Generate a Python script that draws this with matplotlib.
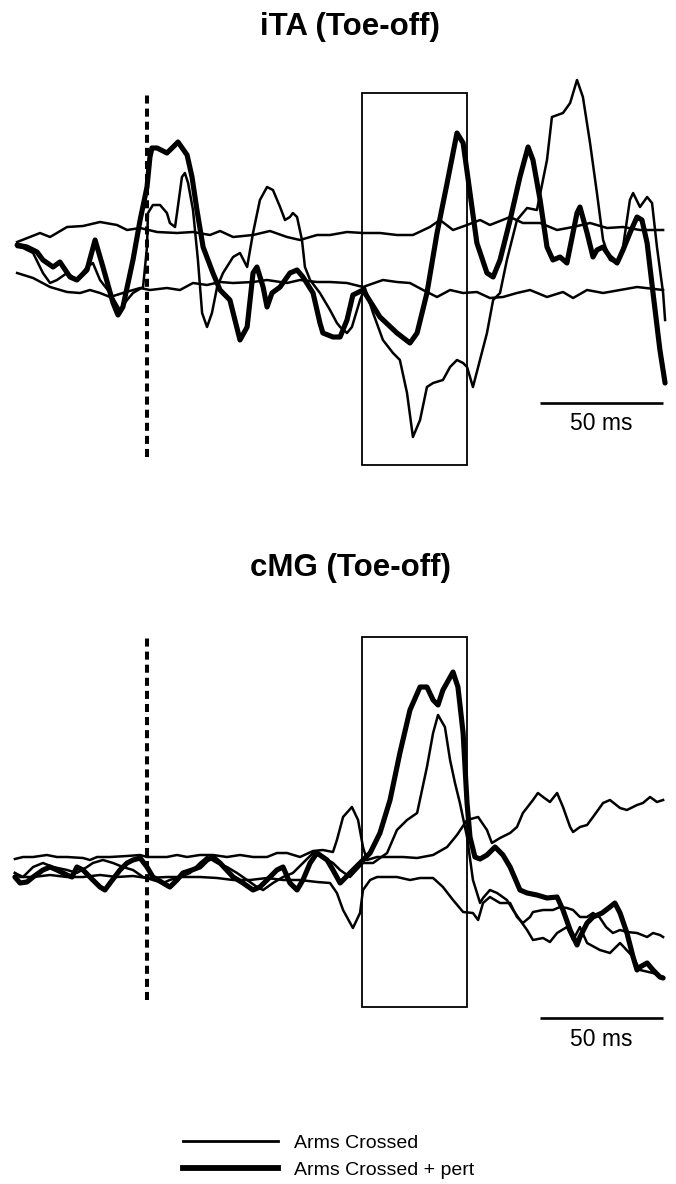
import matplotlib
matplotlib.use("Agg")
import matplotlib.pyplot as plt
from matplotlib.lines import Line2D
from matplotlib.patches import Rectangle

plt.rcParams['font.family'] = ['Liberation Sans', 'DejaVu Sans']

# ---------------------------------------------------------------- data
# time in ms relative to toe-off, amplitude in arbitrary EMG units

# iTA (Toe-off): control band (upper / lower)
ita_upper_t = [-52.8, -47.6, -43.5, -39.4, -32.5, -26.0, -19.1, -12.2, -8.1, -2.8, 4.1, 12.2,
               18.7, 25.6, 29.7, 35.0, 43.1, 50.0, 56.9, 62.2, 69.1, 74.4, 81.3, 87.8, 94.7,
               101.6, 108.1, 115.0, 119.1, 124.4, 130.1, 135.4, 139.4, 147.6, 152.8, 159.8,
               166.7, 173.2, 180.1, 187.0, 193.5, 200.4, 209.8]
ita_upper = [1.8, 2.3, 2.7, 2.3, 3.3, 3.4, 3.8, 3.5, 3.0, 3.2, 2.8, 2.7,
             2.8, 2.5, 2.9, 2.3, 2.5, 2.9, 2.3, 2.0, 2.5, 2.5, 2.8, 2.7, 2.7,
             2.5, 2.5, 3.3, 4.0, 3.0, 3.5, 4.0, 3.5, 4.3, 3.7, 3.7,
             3.0, 3.3, 3.7, 3.2, 3.3, 3.0, 3.0]

ita_lower_t = [-52.8, -46.3, -39.4, -32.5, -27.2, -23.2, -19.1, -15.0, -9.8, -2.8, 1.2, 8.1,
               13.4, 18.7, 24.4, 29.7, 35.0, 43.1, 48.8, 56.9, 62.2, 69.1, 74.4, 81.3, 87.8,
               95.9, 101.6, 106.9, 112.2, 117.9, 123.2, 128.5, 134.1, 139.4, 144.7, 150.4,
               155.7, 162.6, 169.1, 173.2, 178.9, 185.4, 192.3, 199.2, 209.8]
ita_lower = [-1.3, -1.8, -2.7, -3.2, -3.3, -3.0, -3.3, -3.7, -3.3, -2.8, -3.0, -2.8,
             -3.0, -2.3, -2.5, -2.2, -2.3, -2.2, -2.0, -2.3, -2.0, -2.2, -2.2, -2.3, -2.7,
             -2.0, -2.2, -2.3, -3.0, -3.7, -3.0, -3.3, -3.2, -3.8, -3.7, -3.3,
             -3.0, -3.7, -3.2, -3.8, -3.0, -3.3, -3.0, -2.7, -3.0]

# iTA (Toe-off): Arms Crossed trace
ita_ctrl_t = [-52.8, -50.4, -46.3, -42.3, -39.4, -36.6, -32.5, -28.5, -24.4, -22.0, -19.1, -15.0,
              -11.0, -8.1, -5.7, -1.6, 0.0, 0.4, 2.4, 5.3, 8.1, 9.3, 11.4, 12.2, 14.2, 15.4,
              16.7, 18.7, 20.7, 22.4, 24.4, 26.4, 28.5, 30.9, 35.0, 37.8, 40.7, 43.1, 45.9,
              48.8, 51.2, 54.1, 56.1, 58.1, 59.3, 61.0, 63.0, 64.2, 66.3, 70.3, 74.4, 77.2,
              78.5, 81.3, 83.3, 86.6, 88.6, 91.9, 95.9, 100.0, 102.8, 105.7, 108.1, 111.0,
              113.8, 116.3, 120.3, 123.2, 126.0, 128.5, 130.1, 132.5, 138.2, 140.7, 143.5,
              146.3, 150.4, 154.5, 158.5, 162.6, 164.6, 169.1, 172.0, 174.8, 177.2, 180.1,
              182.9, 185.4, 188.2, 191.1, 193.5, 196.3, 197.6, 200.4, 203.3, 205.3, 207.3,
              209.8, 210.6]
ita_ctrl = [1.3, 1.2, 0.7, -1.3, -2.3, -2.0, -1.3, -2.0, -0.7, -0.3, -2.0, -3.3,
            -5.0, -4.0, -3.3, -2.7, 1.3, 4.7, 5.5, 5.5, 4.7, 3.7, 3.3, 4.7, 8.3, 8.7,
            7.7, 5.0, 0.0, -5.3, -6.7, -5.3, -2.7, -1.3, 0.3, 0.7, -0.7, 2.7, 6.0,
            7.3, 7.0, 5.3, 4.0, 4.3, 4.7, 4.3, 2.0, -0.7, -2.0, -3.3, -5.0, -6.3,
            -6.7, -7.3, -6.7, -4.0, -2.8, -5.3, -8.0, -9.3, -10.0, -13.3, -17.7, -16.0,
            -12.7, -12.3, -12.0, -10.7, -10.0, -10.3, -10.7, -12.7, -7.3, -4.0, -3.3,
            0.0, 4.0, 5.2, 5.0, 10.0, 14.3, 14.7, 15.7, 18.0, 16.3, 11.7,
            6.7, 2.0, 0.0, -0.3, 1.3, 6.0, 6.7, 5.3, 6.3, 5.7, 1.3,
            -3.3, -6.0]

# iTA (Toe-off): Arms Crossed + pert trace
ita_pert_t = [-52.8, -48.8, -44.7, -42.3, -38.2, -35.4, -31.3, -28.5, -24.4, -21.1, -17.9, -13.8,
              -11.8, -9.8, -5.7, -2.8, 0.0, 1.2, 2.0, 4.1, 8.1, 10.6, 12.6, 16.3, 18.3, 20.3,
              22.8, 26.8, 29.7, 33.7, 37.8, 40.7, 43.1, 44.7, 47.2, 48.8, 50.8, 54.1, 58.1,
              61.0, 63.4, 67.5, 70.3, 71.5, 75.6, 78.5, 81.3, 83.7, 87.8, 94.7, 101.6, 106.9,
              109.8, 113.8, 117.9, 122.0, 126.0, 128.5, 131.3, 134.1, 138.2, 140.7, 143.5,
              147.6, 151.6, 154.9, 156.9, 159.8, 162.6, 165.0, 167.9, 170.7, 172.0, 174.8,
              176.0, 178.9, 181.3, 182.9, 185.4, 188.2, 191.1, 193.5, 196.3, 199.2, 201.2,
              203.3, 205.7, 208.5, 210.6]
ita_pert = [1.5, 1.3, 0.8, 0.0, -0.7, -0.2, -1.7, -2.0, -1.0, 2.0, -0.7, -4.3,
            -5.5, -4.7, 0.0, 4.0, 7.3, 10.3, 11.2, 11.2, 10.7, 11.3, 11.8, 10.5, 8.3, 5.0,
            1.3, -1.3, -3.0, -4.0, -8.0, -6.7, -1.3, -0.7, -2.7, -4.7, -3.3, -2.7, -1.3,
            -1.0, -1.7, -3.3, -6.3, -7.3, -7.7, -7.7, -6.0, -3.5, -3.0, -5.7, -7.3, -8.3,
            -7.3, -3.3, 2.7, 7.7, 12.7, 11.7, 6.7, 1.7, -1.3, -1.7, 0.0,
            4.0, 8.3, 11.3, 10.0, 6.0, 1.3, 0.0, 0.3, -0.3, 1.3, 4.7,
            5.3, 2.7, 0.3, 1.0, 1.3, 0.3, -0.3, 1.0, 2.7, 4.3, 4.0,
            1.7, -3.3, -9.0, -12.3]

# cMG (Toe-off): control band (upper / lower)
cmg_upper_t = [-53.7, -50.4, -46.3, -40.7, -36.6, -32.5, -26.0, -23.2, -20.3, -15.0, -8.1, -2.8,
               0.0, 8.1, 12.2, 16.3, 21.5, 26.8, 32.5, 37.8, 43.1, 48.8, 52.8, 56.9, 62.2,
               67.5, 71.5, 75.6, 77.2, 79.7, 83.3, 85.8, 87.8, 89.4, 93.5, 98.8, 104.1, 109.8,
               116.3, 122.0, 126.0, 130.1, 134.6, 138.2, 140.2, 143.5, 147.6, 150.4, 152.8,
               156.9, 158.9, 161.0, 163.8, 166.7, 169.1, 172.0, 173.2, 176.0, 178.9, 181.3,
               185.4, 188.2, 192.3, 195.1, 199.2, 201.6, 204.5, 207.3, 209.8]
cmg_upper = [0.8, 1.0, 1.0, 1.2, 1.0, 1.0, 0.9, 0.7, 1.0, 1.0, 1.1, 1.2,
             1.0, 1.0, 1.2, 1.0, 1.2, 1.2, 1.0, 1.2, 1.0, 1.0, 1.4, 1.4, 1.0,
             1.6, 1.7, 1.5, 2.7, 5.0, 6.0, 4.7, 2.0, 0.7, 1.0, 1.0, 1.0, 0.9,
             1.2, 2.0, 3.2, 4.7, 5.0, 3.7, 2.4, 2.9, 3.4, 4.0, 5.4,
             6.7, 7.4, 7.0, 6.5, 7.4, 6.0, 4.0, 3.5, 4.0, 4.2, 5.0,
             6.4, 6.7, 5.9, 5.7, 6.2, 6.4, 7.0, 6.5, 6.7]

cmg_lower_t = [-53.7, -51.6, -46.3, -39.4, -32.5, -26.0, -19.1, -12.2, -5.7, 0.0, 8.1, 16.3,
               21.5, 28.5, 35.0, 41.9, 48.8, 55.3, 62.2, 69.1, 74.4, 77.2, 79.7, 83.7, 86.6,
               87.8, 90.7, 93.5, 101.6, 106.9, 111.0, 116.3, 120.3, 124.4, 128.5, 132.5, 134.6,
               136.6, 139.4, 143.5, 147.6, 150.4, 152.8, 155.7, 156.9, 161.0, 165.0, 167.9,
               170.7, 173.2, 176.0, 178.9, 181.3, 183.9, 186.6, 189.4, 192.3, 195.1, 199.2,
               203.3, 205.7, 208.5, 209.8]
cmg_lower = [-0.6, -1.0, -1.0, -0.8, -1.0, -1.0, -0.8, -1.0, -0.9, -1.1, -1.0, -1.0,
             -1.0, -1.1, -1.3, -1.3, -1.1, -1.3, -1.3, -1.5, -1.6, -2.6, -4.3, -6.1, -4.6,
             -2.3, -1.3, -1.0, -1.0, -1.3, -1.1, -1.1, -2.0, -3.3, -4.5, -4.6, -5.3,
             -3.6, -3.0, -3.6, -3.6, -5.0, -5.6, -5.0, -4.5, -4.3, -4.3, -4.0,
             -4.1, -4.3, -5.0, -5.0, -4.6, -5.0, -6.0, -6.6, -6.3, -6.5, -6.6,
             -7.0, -6.6, -6.8, -7.0]

# cMG (Toe-off): Arms Crossed trace
cmg_ctrl_t = [-53.7, -50.4, -46.3, -42.3, -38.2, -32.5, -28.5, -24.4, -22.0, -17.9, -13.8, -9.8,
              -5.7, -1.6, 2.4, 6.5, 9.3, 13.4, 17.5, 21.5, 24.4, 28.5, 32.5, 36.6, 40.7,
              44.7, 47.2, 51.2, 55.3, 59.3, 63.4, 67.5, 71.5, 75.6, 78.5, 82.5, 87.8, 91.9,
              97.6, 101.6, 105.7, 109.8, 113.8, 116.3, 118.3, 121.1, 123.2, 125.2, 127.2,
              130.1, 132.5, 135.4, 136.6, 139.4, 142.3, 146.3, 148.8, 151.6, 154.5, 156.9,
              161.0, 163.8, 166.7, 170.7, 173.2, 176.0, 178.9, 184.1, 188.2, 192.3, 197.6,
              200.4, 205.7, 209.8]
cmg_ctrl = [-0.6, -1.0, 0.0, 0.4, 0.0, -0.3, -0.6, 0.0, 0.4, 0.7, 0.4, 0.0,
            -0.3, -1.0, -1.3, -1.6, -1.3, -1.0, -0.6, 0.4, 1.0, 0.4, 0.0, -0.6, -1.3,
            -2.0, -2.3, -1.6, -1.0, -0.6, 0.4, 1.4, 1.0, 0.4, -0.3, -1.0, 0.4, 0.4,
            1.4, 3.7, 4.7, 5.4, 10.0, 13.4, 15.2, 14.0, 10.7, 8.4, 6.4,
            3.0, -1.3, -3.6, -3.1, -2.3, -2.6, -3.3, -4.3, -5.3, -6.3, -7.3,
            -7.1, -7.5, -6.6, -6.0, -7.3, -6.0, -7.6, -8.3, -8.6, -7.6, -9.0,
            -10.3, -10.6, -11.0]

# cMG (Toe-off): Arms Crossed + pert trace
cmg_pert_t = [-53.7, -51.6, -48.8, -46.3, -42.3, -39.4, -36.6, -32.5, -30.5, -28.5, -26.0, -22.0,
              -19.1, -17.1, -15.0, -11.0, -8.1, -5.7, -2.8, 0.0, 2.4, 6.5, 9.3, 12.2, 14.6,
              18.3, 21.5, 24.4, 26.8, 29.7, 35.0, 39.0, 43.1, 45.9, 48.8, 52.8, 55.3, 58.1,
              61.0, 63.4, 66.3, 69.1, 73.2, 75.6, 78.5, 82.5, 86.6, 90.7, 94.7, 98.8, 102.8,
              106.9, 111.0, 113.8, 116.3, 118.3, 120.3, 124.4, 126.4, 128.5, 130.1, 131.3,
              133.3, 135.4, 138.2, 141.5, 144.7, 147.6, 150.4, 151.6, 154.5, 158.5, 162.6,
              166.7, 169.1, 172.0, 174.8, 176.0, 178.9, 181.3, 185.0, 188.2, 190.2, 192.3,
              195.1, 197.6, 199.2, 200.4, 203.3, 205.7, 208.5, 209.8]
cmg_pert = [-1.0, -1.6, -1.5, -1.0, -0.3, 0.0, -0.3, -0.8, -1.0, 0.0, -0.3, -1.3,
            -2.0, -2.3, -1.6, -0.3, 0.4, 0.7, 0.9, 0.0, -1.0, -1.6, -2.0, -1.3, -0.6,
            -0.3, 0.0, 0.7, 1.0, 0.4, -1.0, -1.6, -2.3, -2.0, -1.3, -0.3, 0.0, -1.6,
            -2.3, -1.3, 0.4, 1.4, 0.7, -0.3, -1.6, -0.6, 0.4, 1.4, 3.4, 6.7, 11.4,
            15.7, 18.0, 18.0, 16.7, 16.2, 17.7, 19.5, 18.0, 13.4, 6.4, 3.0,
            1.0, 0.8, 1.2, 2.0, 1.2, 0.0, -1.6, -2.3, -2.6, -2.8, -3.1,
            -3.0, -4.3, -6.3, -7.8, -7.0, -5.6, -5.0, -4.6, -4.0, -3.6, -4.6,
            -6.6, -9.0, -10.3, -10.0, -9.6, -10.3, -11.0, -11.1]

ONSET_MS = 0.0                 # toe-off
WINDOW_MS = (87.4, 130.1)      # analysis window
SCALE_MS = 50                  # time scale bar length
SCALE_END_MS = 209.8

TITLES = ["iTA (Toe-off)", "cMG (Toe-off)"]
LEGEND_LABELS = ["Arms Crossed", "Arms Crossed + pert"]

# ---------------------------------------------------------------- layout
W, H, DPI = 676, 1184, 100
PX_PER_MS = 2.46
ONSET_PX = 147
XLIM = (-ONSET_PX / PX_PER_MS, (W - ONSET_PX) / PX_PER_MS)

THIN = 1.8
THICK = 3.7
INK = "black"

fig = plt.figure(figsize=(W / DPI, H / DPI), dpi=DPI)
fig.patch.set_facecolor("white")


def make_panel(top_px, bottom_px, ylim):
    ax = fig.add_axes([0, 1 - bottom_px / H, 1, (bottom_px - top_px) / H])
    ax.set_xlim(*XLIM)
    ax.set_ylim(*ylim)
    ax.axis("off")
    return ax


def draw_panel(ax, band, ctrl, pert, onset_span, box_span, bar_y, text_y):
    (ut, u), (lt, l) = band
    ax.plot(ut, u, color=INK, lw=THIN, solid_joinstyle="round", zorder=2)
    ax.plot(lt, l, color=INK, lw=THIN, solid_joinstyle="round", zorder=2)
    ax.plot(ctrl[0], ctrl[1], color=INK, lw=THIN, solid_joinstyle="round", zorder=3)
    ax.plot(pert[0], pert[1], color=INK, lw=THICK, solid_joinstyle="round",
            solid_capstyle="round", zorder=4)
    # toe-off marker
    ax.plot([ONSET_MS, ONSET_MS], onset_span, color=INK, lw=2.9,
            linestyle=(0, (2.0, 1.25)), dash_capstyle="butt", zorder=5)
    # analysis window
    ax.add_patch(Rectangle((WINDOW_MS[0], box_span[0]), WINDOW_MS[1] - WINDOW_MS[0],
                           box_span[1] - box_span[0], fill=False, ec=INK, lw=1.3, zorder=6))
    # time scale bar
    ax.plot([SCALE_END_MS - SCALE_MS, SCALE_END_MS], [bar_y, bar_y], color=INK, lw=1.9,
            solid_capstyle="butt", zorder=5)
    ax.text(SCALE_END_MS - SCALE_MS / 2, text_y, f"{SCALE_MS} ms", ha="center", va="center",
            fontsize=16.5, color=INK)


ax_top = make_panel(50, 480, (-22.0, 21.0))
draw_panel(ax_top,
           ((ita_upper_t, ita_upper), (ita_lower_t, ita_lower)),
           (ita_ctrl_t, ita_ctrl), (ita_pert_t, ita_pert),
           (-19.7, 16.7), (-20.5, 16.7), -14.3, -16.3)

ax_bot = make_panel(590, 1060, (-19.3, 27.7))
draw_panel(ax_bot,
           ((cmg_upper_t, cmg_upper), (cmg_lower_t, cmg_lower)),
           (cmg_ctrl_t, cmg_ctrl), (cmg_pert_t, cmg_pert),
           (-13.3, 23.1), (-14.0, 23.0), -15.1, -17.3)

fig.text(350 / W, 1 - 27 / H, TITLES[0], ha="center", va="center",
         fontsize=22.5, fontweight="bold", color=INK)
fig.text(350 / W, 1 - 568 / H, TITLES[1], ha="center", va="center",
         fontsize=22.5, fontweight="bold", color=INK)

handles = [Line2D([], [], color=INK, lw=2.0), Line2D([], [], color=INK, lw=4.2)]
fig.legend(handles, LEGEND_LABELS, loc="upper left",
           bbox_to_anchor=(183 / W, 1 - 1134 / H), frameon=False,
           fontsize=14, handlelength=4.9, handletextpad=0.8,
           labelspacing=0.5, borderpad=0, borderaxespad=0)

fig.savefig("out.png", dpi=DPI, facecolor="white")
